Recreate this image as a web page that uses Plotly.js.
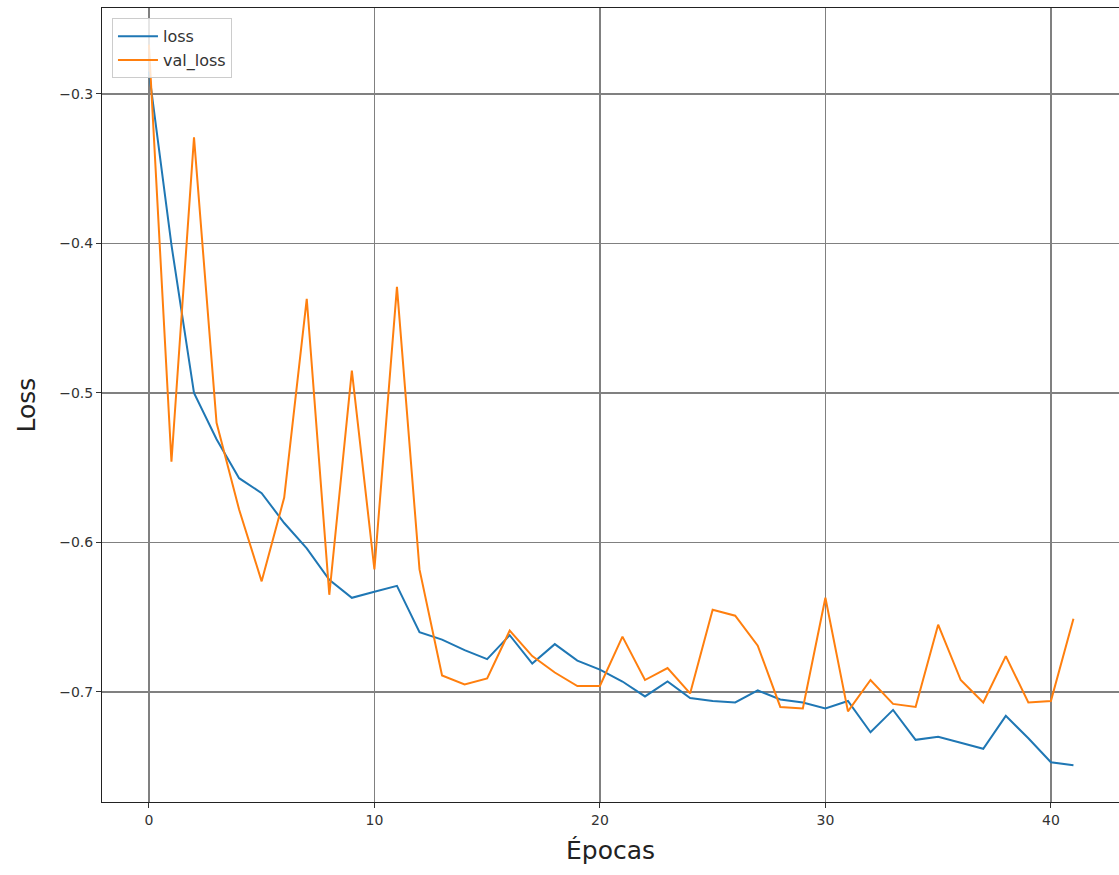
<!DOCTYPE html>
<html>
<head>
<meta charset="utf-8">
<script src="https://cdn.plot.ly/plotly-3.0.1.min.js"></script>
<style>html,body{margin:0;padding:0;background:#fff;}#chart{width:1119px;height:875px;}</style>
</head>
<body>
<div id="chart"></div>
<script>
const epochs = Array.from({length: 42}, (_, i) => i);
const loss = [-0.285, -0.401, -0.500, -0.531, -0.557, -0.567, -0.587, -0.604, -0.625, -0.637,
  -0.633, -0.629, -0.660, -0.665, -0.672, -0.678, -0.662, -0.681, -0.668, -0.679,
  -0.685, -0.693, -0.703, -0.693, -0.704, -0.706, -0.707, -0.699, -0.705, -0.707,
  -0.711, -0.706, -0.727, -0.712, -0.732, -0.730, -0.734, -0.738, -0.716, -0.731,
  -0.747, -0.749];
const valLoss = [-0.267, -0.546, -0.329, -0.520, -0.578, -0.626, -0.570, -0.437, -0.635, -0.485,
  -0.618, -0.429, -0.618, -0.689, -0.695, -0.691, -0.659, -0.676, -0.687, -0.696,
  -0.696, -0.663, -0.692, -0.684, -0.701, -0.645, -0.649, -0.669, -0.710, -0.711,
  -0.637, -0.713, -0.692, -0.708, -0.710, -0.655, -0.692, -0.707, -0.676, -0.707,
  -0.706, -0.651];
const xTicks = [0, 10, 20, 30, 40];
const yTicks = [-0.3, -0.4, -0.5, -0.6, -0.7];
const yTickLabels = ["\u22120.3", "\u22120.4", "\u22120.5", "\u22120.6", "\u22120.7"];

const traces = [
  {x: epochs, y: loss, name: "loss", type: "scatter", mode: "lines",
   line: {color: "#1f77b4", width: 2}},
  {x: epochs, y: valLoss, name: "val_loss", type: "scatter", mode: "lines",
   line: {color: "#ff7f0e", width: 2}}
];

const layout = {
  width: 1119, height: 875,
  margin: {l: 102, r: 0, t: 8, b: 73, pad: 0},
  paper_bgcolor: "#ffffff", plot_bgcolor: "#ffffff",
  font: {family: "DejaVu Sans, sans-serif", color: "#333333", size: 14},
  showlegend: true,
  legend: {x: 0.0098, y: 0.987, xanchor: "left", yanchor: "top",
    bgcolor: "rgba(255,255,255,0.8)", bordercolor: "#cccccc", borderwidth: 1,
    font: {size: 16, color: "#333333"}, tracegroupgap: 0, itemwidth: 40},
  xaxis: {
    range: [-2.08, 43.02], tickmode: "array", tickvals: xTicks,
    ticks: "outside", ticklen: 5, tickcolor: "#333", tickwidth: 1,
    showgrid: true, gridcolor: "#808080", gridwidth: 1.3,
    zeroline: false, showline: true, linecolor: "#222", linewidth: 1, mirror: true,
    tickfont: {size: 14, color: "#333"},
    title: {text: "Épocas", font: {size: 25, color: "#222"}, standoff: 14}
  },
  yaxis: {
    range: [-0.7736, -0.2425], tickmode: "array", tickvals: yTicks, ticktext: yTickLabels,
    ticks: "outside", ticklen: 5, tickcolor: "#333", tickwidth: 1,
    showgrid: true, gridcolor: "#808080", gridwidth: 1.3,
    zeroline: false, showline: true, linecolor: "#222", linewidth: 1, mirror: true,
    tickfont: {size: 14, color: "#333"},
    title: {text: "Loss", font: {size: 25, color: "#222"}, standoff: 16}
  }
};

Plotly.newPlot("chart", traces, layout, {displayModeBar: false, staticPlot: true});
</script>
</body>
</html>
